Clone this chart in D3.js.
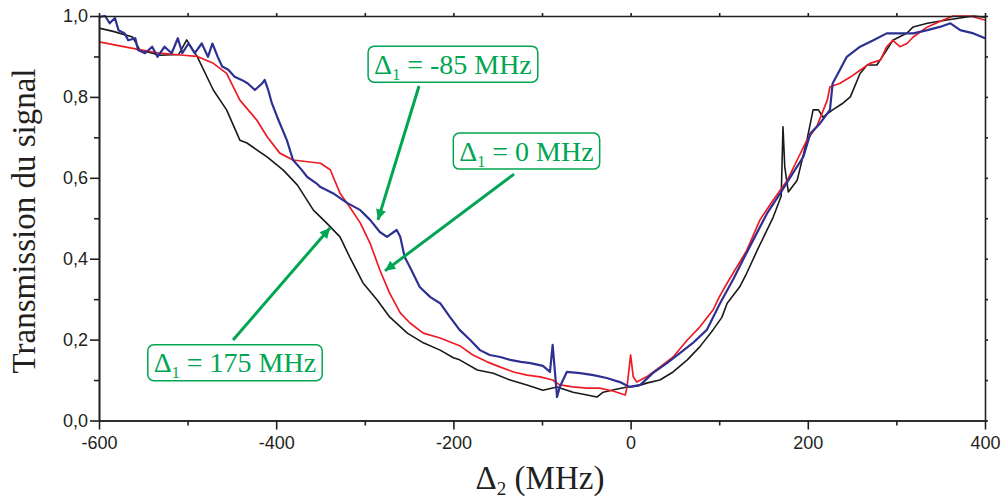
<!DOCTYPE html>
<html><head><meta charset="utf-8">
<script src="https://cdn.jsdelivr.net/npm/d3@7"></script>
<style>
html,body{margin:0;padding:0;background:#fff;}
svg{display:block;}
</style></head>
<body>
<script>
// ---- Data (Δ2 in MHz, transmission) ----
const blackX = [-600,-584,-562,-554,-531,-510,-501,-489,-471,-456,-441,-433,-410,-392,-376,-358,-343,-328,-317,-302,-286,-272,-252,-234,-215,-200,-193,-173,-155,-136,-117,-99,-83,-65,-49,-38,-31,-15,-4,7,19,33,48,64,78,93,103,109,123,131,143,161,170,172,174,178,188,199,206,212,217,228,240,248,259,267,278,289,296,312,319,335,357,387,400];
const blackY = [0.970,0.962,0.948,0.916,0.903,0.905,0.941,0.899,0.817,0.768,0.693,0.686,0.651,0.619,0.582,0.520,0.488,0.454,0.404,0.340,0.298,0.256,0.216,0.192,0.174,0.155,0.150,0.125,0.117,0.100,0.088,0.075,0.083,0.070,0.063,0.058,0.070,0.078,0.083,0.085,0.093,0.100,0.120,0.150,0.182,0.224,0.255,0.290,0.330,0.364,0.421,0.503,0.555,0.726,0.627,0.565,0.594,0.693,0.768,0.768,0.750,0.768,0.785,0.800,0.858,0.879,0.879,0.916,0.940,0.958,0.973,0.982,0.990,1.000,0.997];

const redX = [-600,-562,-531,-505,-489,-471,-456,-441,-422,-410,-396,-381,-350,-339,-328,-317,-305,-294,-283,-272,-260,-249,-234,-215,-193,-178,-162,-147,-132,-117,-102,-88,-80,-65,-49,-35,-20,-6,-4,0,3,7,18,33,48,64,78,93,100,109,131,146,161,177,188,199,210,222,225,236,248,259,270,282,289,296,304,312,319,335,353,364,383,400];
const redY = [0.936,0.920,0.908,0.903,0.900,0.883,0.858,0.792,0.743,0.701,0.661,0.644,0.636,0.620,0.562,0.528,0.488,0.438,0.372,0.315,0.266,0.241,0.216,0.204,0.185,0.162,0.145,0.132,0.120,0.112,0.108,0.100,0.088,0.083,0.080,0.080,0.073,0.063,0.083,0.162,0.108,0.095,0.108,0.132,0.157,0.199,0.231,0.273,0.305,0.340,0.420,0.496,0.545,0.594,0.644,0.693,0.726,0.792,0.825,0.833,0.849,0.866,0.883,0.891,0.924,0.940,0.924,0.932,0.948,0.973,0.990,1.000,1.000,0.990];

const blueX = [-600,-593,-588,-582,-578,-571,-567,-559,-556,-548,-540,-534,-526,-518,-511,-506,-499,-492,-484,-477,-472,-466,-461,-454,-447,-439,-432,-424,-416,-413,-409,-405,-399,-388,-381,-371,-365,-355,-350,-336,-320,-305,-294,-283,-275,-264,-260,-255,-249,-238,-226,-215,-204,-193,-181,-170,-159,-147,-136,-124,-113,-99,-91,-88,-83,-80,-72,-57,-42,-27,-12,-1,11,25,41,56,70,86,101,116,131,154,169,183,195,203,214,225,228,236,244,259,274,289,304,319,335,349,361,372,387,400];
const blueY = [0.998,1.000,0.982,0.995,0.965,0.957,0.940,0.945,0.916,0.908,0.924,0.899,0.924,0.908,0.945,0.908,0.932,0.908,0.932,0.899,0.932,0.899,0.875,0.867,0.850,0.842,0.833,0.817,0.833,0.842,0.817,0.785,0.751,0.693,0.644,0.619,0.602,0.587,0.577,0.562,0.538,0.520,0.496,0.466,0.454,0.471,0.454,0.404,0.379,0.330,0.305,0.290,0.256,0.224,0.199,0.174,0.162,0.157,0.150,0.145,0.142,0.135,0.120,0.187,0.058,0.083,0.120,0.117,0.112,0.105,0.095,0.083,0.088,0.117,0.142,0.167,0.191,0.224,0.290,0.350,0.415,0.512,0.562,0.611,0.652,0.710,0.735,0.768,0.833,0.866,0.899,0.924,0.940,0.957,0.957,0.957,0.965,0.973,0.982,0.965,0.957,0.945];

const xMajorTicks = [-600,-400,-200,0,200,400];
const xMinorTicks = [-500,-300,-100,100,300];
const yMajorTicks = [0,0.2,0.4,0.6,0.8,1.0];
const yMinorTicks = [0.1,0.3,0.5,0.7,0.9];

const annLabels = ["-85 MHz","0 MHz","175 MHz"];
const annBoxCenter = [[-200.5,0.881],[-117.5,0.666],[-446.5,0.143]];
const annArrowFrom = [[-238.8,0.827],[-131.6,0.609],[-448.7,0.199]];
const annArrowTo = [[-285.1,0.496],[-277.2,0.370],[-339.3,0.476]];

// ---- Layout ----
const W = 1004, H = 498;
const mLeft = 99, mRight = 985, mTop = 16, mBottom = 420.5;
const axisColor = "#231f20";
const green = "#00a651";

const svg = d3.select("body").append("svg").attr("width", W).attr("height", H);
const defs = svg.append("defs");

const x = d3.scaleLinear().domain([-600,400]).range([mLeft,mRight]);
const y = d3.scaleLinear().domain([0,1]).range([mBottom,mTop]);

defs.append("clipPath").attr("id","clip")
  .append("rect").attr("x",mLeft).attr("y",mTop-2).attr("width",mRight-mLeft).attr("height",mBottom-mTop+2);
const plot = svg.append("g");

function drawSeries(xs, ys, color, width){
  const pts = xs.map((v,i)=>[v, ys[i]]);
  plot.append("path").datum(pts)
    .attr("clip-path","url(#clip)")
    .attr("fill","none").attr("stroke",color).attr("stroke-width",width)
    .attr("stroke-linejoin","round")
    .attr("d", d3.line().x(d=>x(d[0])).y(d=>y(d[1])));
}
drawSeries(blackX, blackY, "#1a1a1a", 1.6);
drawSeries(redX, redY, "#ed1c24", 1.7);
drawSeries(blueX, blueY, "#2e3192", 2.2);

// ---- Axes ----
const fmt = d => d3.format(".1f")(d).replace(".", ",");
function styleAxis(g){
  g.selectAll(".domain").attr("stroke", axisColor).attr("stroke-width", 1.6);
  g.selectAll(".tick line").attr("stroke", axisColor).attr("stroke-width", 1.6);
  g.selectAll(".tick text").attr("fill", axisColor)
    .style("font-family","'Liberation Sans', Arial, sans-serif").style("font-size","18px");
}
const gB = svg.append("g").attr("transform",`translate(0,${mBottom})`)
  .call(d3.axisBottom(x).tickValues(xMajorTicks).tickSize(9).tickSizeOuter(0).tickPadding(7).tickFormat(d=>d));
styleAxis(gB);
const gBm = svg.append("g").attr("transform",`translate(0,${mBottom})`)
  .call(d3.axisBottom(x).tickValues(xMinorTicks).tickSize(5).tickSizeOuter(0).tickFormat(""));
styleAxis(gBm);

const gL = svg.append("g").attr("transform",`translate(${mLeft},0)`)
  .call(d3.axisLeft(y).tickValues(yMajorTicks).tickSize(9).tickSizeOuter(0).tickPadding(2).tickFormat(fmt));
styleAxis(gL);
const gLm = svg.append("g").attr("transform",`translate(${mLeft},0)`)
  .call(d3.axisLeft(y).tickValues(yMinorTicks).tickSize(5).tickSizeOuter(0).tickFormat(""));
styleAxis(gLm);

const gT = svg.append("g").attr("transform",`translate(0,${mTop})`)
  .call(d3.axisTop(x).tickValues(xMajorTicks.concat(xMinorTicks)).tickSize(3).tickSizeOuter(0).tickFormat(""));
styleAxis(gT);
const gR = svg.append("g").attr("transform",`translate(${mRight},0)`)
  .call(d3.axisRight(y).tickValues(yMajorTicks.concat(yMinorTicks)).tickSize(3).tickSizeOuter(0).tickFormat(""));
styleAxis(gR);

// ---- Axis titles ----
const serif = "'Liberation Serif','Times New Roman',serif";
svg.append("text")
  .attr("transform", `translate(35,221) rotate(-90)`)
  .attr("text-anchor","middle")
  .style("font-family",serif).style("font-size","33px").attr("fill",axisColor)
  .text("Transmission du signal");

const xt = svg.append("text").attr("x",540).attr("y",489).attr("text-anchor","middle")
  .style("font-family",serif).style("font-size","33px").attr("fill",axisColor);
xt.append("tspan").text("Δ");
xt.append("tspan").attr("dy",6).style("font-size","19px").text("2");
xt.append("tspan").attr("dy",-6).text(" (MHz)");

// ---- Annotations ----
defs.append("marker").attr("id","arr").attr("viewBox","0 0 10 10")
  .attr("refX",10).attr("refY",5).attr("markerWidth",4.2).attr("markerHeight",3.4)
  .attr("markerUnits","strokeWidth").attr("orient","auto")
  .append("path").attr("d","M0,0 L10,5 L0,10 Z").attr("fill",green);

const ann = svg.append("g");
annLabels.forEach((lab,i)=>{
  ann.append("line")
    .attr("x1",x(annArrowFrom[i][0])).attr("y1",y(annArrowFrom[i][1]))
    .attr("x2",x(annArrowTo[i][0])).attr("y2",y(annArrowTo[i][1]))
    .attr("stroke",green).attr("stroke-width",3).attr("marker-end","url(#arr)");
  const cx = x(annBoxCenter[i][0]), cy = y(annBoxCenter[i][1]);
  const g = ann.append("g");
  const rect = g.append("rect");
  const t = g.append("text").attr("x",cx).attr("y",cy+9.5).attr("text-anchor","middle")
    .style("font-family",serif).style("font-size","28px").attr("fill",green);
  t.append("tspan").text("Δ");
  t.append("tspan").attr("dy",6).style("font-size","16px").text("1");
  t.append("tspan").attr("dy",-6).text(" = " + lab);
  const bb = t.node().getBBox();
  rect.attr("x",bb.x-6).attr("y",cy-18).attr("width",bb.width+12).attr("height",36)
    .attr("rx",6).attr("ry",6).attr("fill","#fff").attr("stroke",green).attr("stroke-width",1.5);
});
</script>
</body></html>
